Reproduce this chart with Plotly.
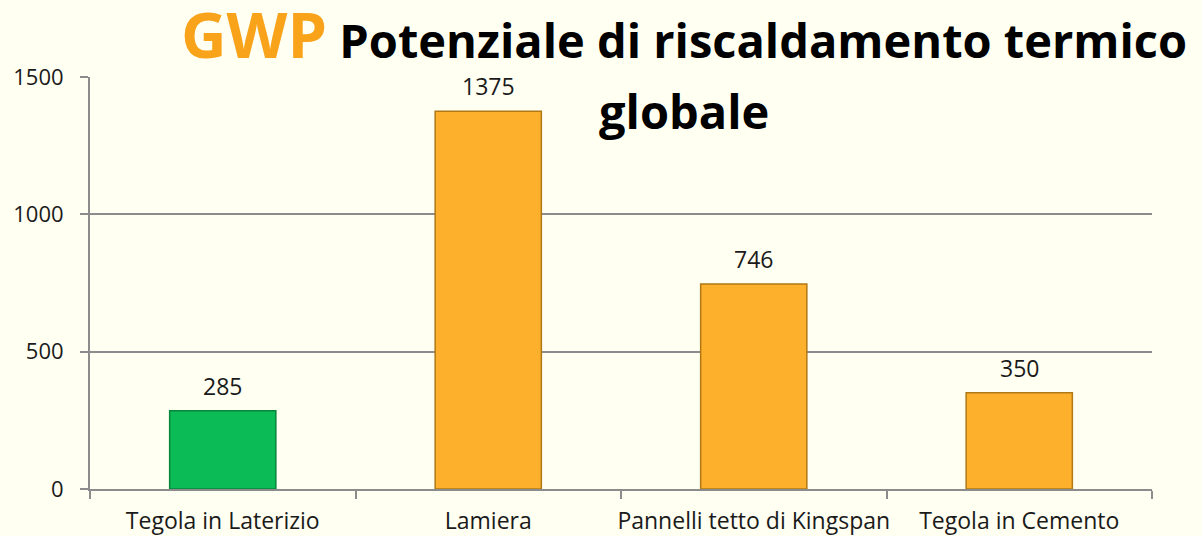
"""
GWP bar chart - Potenziale di riscaldamento termico globale.
"""
import plotly.graph_objects as go

# Data
categories = ["Tegola in Laterizio", "Lamiera", "Pannelli tetto di Kingspan", "Tegola in Cemento"]
gwp_values = [285, 1375, 746, 350]
bar_colors = ["#0BBB55", "#FDB02B", "#FDB02B", "#FDB02B"]
edge_colors = ["#07863C", "#B07817", "#B07817", "#B07817"]
y_ticks = [0, 500, 1000, 1500]

BG = "#FFFFF2"
GRID = "#8C8C8C"
FONT = "Open Sans, sans-serif"

# plot area in pixels (used to place the title above it)
PLOT_TOP, PLOT_BOTTOM = 77, 489


def paper_y(px):
    """pixel row -> paper y coordinate"""
    return (PLOT_BOTTOM - px) / (PLOT_BOTTOM - PLOT_TOP)


fig = go.Figure()

fig.add_trace(go.Bar(
    x=categories,
    y=gwp_values,
    width=0.4,
    marker=dict(color=bar_colors, line=dict(color=edge_colors, width=1.5)),
    hoverinfo="x+y",
))

# value labels above the bars
for cat, val in zip(categories, gwp_values):
    fig.add_annotation(
        x=cat, y=val, text=str(val),
        showarrow=False, yanchor="bottom", yshift=7,
        font=dict(family=FONT, size=23, color="#1A1A1A"),
    )

# title, two lines, centred off the plot centre like the original
fig.add_annotation(
    xref="paper", yref="paper", x=0.559, y=paper_y(33), yanchor="middle",
    text="<span style='color:#F9A31B;font-size:63px'>GWP</span> Potenziale di riscaldamento termico",
    showarrow=False,
    font=dict(family=FONT, size=47, color="#000000", weight="bold"),
)
fig.add_annotation(
    xref="paper", yref="paper", x=0.559, y=paper_y(111), yanchor="middle",
    text="globale",
    showarrow=False,
    font=dict(family=FONT, size=47, color="#000000", weight="bold"),
)

fig.update_layout(
    width=1202,
    height=536,
    paper_bgcolor=BG,
    plot_bgcolor=BG,
    margin=dict(l=90, r=50, t=PLOT_TOP, b=536 - PLOT_BOTTOM),
    showlegend=False,
    font=dict(family=FONT, color="#1A1A1A"),
)

fig.update_xaxes(
    showline=True, linecolor=GRID, linewidth=2,
    ticks="outside", tickson="boundaries", ticklen=8, tickwidth=2, tickcolor=GRID,
    tickangle=0, automargin=False, ticklabelstandoff=10,
    tickfont=dict(family=FONT, size=23, color="#1A1A1A"),
    showgrid=False,
)
fig.update_yaxes(
    range=[0, 1500], tickvals=y_ticks,
    showline=True, linecolor=GRID, linewidth=2,
    ticks="outside", ticklen=8, tickwidth=2, tickcolor=GRID,
    showgrid=True, gridcolor=GRID, gridwidth=2,
    zeroline=False, automargin=False, ticklabelstandoff=12,
    tickfont=dict(family=FONT, size=22, color="#1A1A1A"),
)

# drop the default page margin so the figure sits at the window corner
fig.write_html(
    "out.html",
    config={"displayModeBar": False},
    post_script="document.body.style.margin='0';document.body.style.background='#FFFFF2';",
)
